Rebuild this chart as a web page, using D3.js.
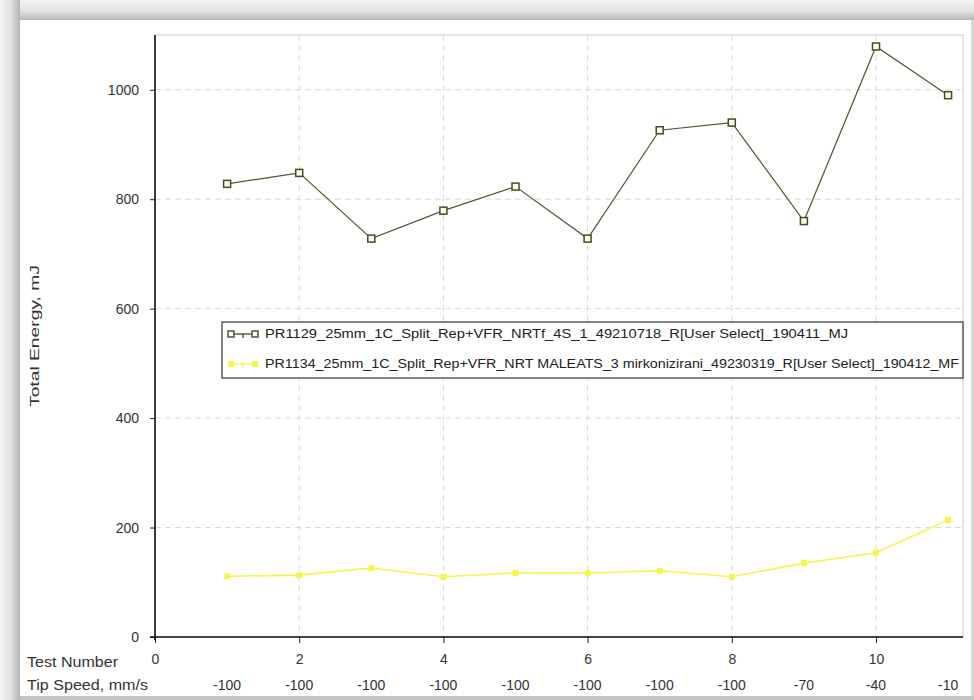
<!DOCTYPE html>
<html>
<head>
<meta charset="utf-8">
<script src="https://cdn.jsdelivr.net/npm/d3@7/dist/d3.min.js"></script>
<style>
  html, body { margin: 0; padding: 0; background: #ffffff; }
  svg { display: block; font-family: "Liberation Sans", Arial, sans-serif; }
</style>
</head>
<body>
<svg id="chart" width="974" height="700"></svg>
<script>
// Test numbers and tip speeds along the x axis
const testNumbers = [1, 2, 3, 4, 5, 6, 7, 8, 9, 10, 11];
const tipSpeeds = [-100, -100, -100, -100, -100, -100, -100, -100, -70, -40, -10];
const xTicks = [0, 2, 4, 6, 8, 10];
const yTicks = [0, 200, 400, 600, 800, 1000];

// Total energy (mJ) per test for each sample
const seriesNames = [
  "PR1129_25mm_1C_Split_Rep+VFR_NRTf_4S_1_49210718_R[User Select]_190411_MJ",
  "PR1134_25mm_1C_Split_Rep+VFR_NRT MALEATS_3 mirkonizirani_49230319_R[User Select]_190412_MF"
];
const energyA = [828, 848, 728, 779, 823, 728, 926, 940, 760, 1079, 990];
const energyB = [111, 113, 126, 110, 117, 117, 121, 110, 135, 154, 214];

const svg = d3.select("#chart");

// Window frame around the chart
const defs = svg.append("defs");
const gTop = defs.append("linearGradient").attr("id", "gTop").attr("x1", 0).attr("y1", 0).attr("x2", 0).attr("y2", 1);
gTop.append("stop").attr("offset", "0%").attr("stop-color", "#f2f2f2");
gTop.append("stop").attr("offset", "55%").attr("stop-color", "#e2e2e2");
gTop.append("stop").attr("offset", "100%").attr("stop-color", "#b8b8b8");
const gLeft = defs.append("linearGradient").attr("id", "gLeft").attr("x1", 0).attr("y1", 0).attr("x2", 1).attr("y2", 0);
gLeft.append("stop").attr("offset", "0%").attr("stop-color", "#f4f4f4");
gLeft.append("stop").attr("offset", "55%").attr("stop-color", "#e0e0e0");
gLeft.append("stop").attr("offset", "100%").attr("stop-color", "#b4b4b4");

svg.append("rect").attr("x", 0).attr("y", 0).attr("width", 974).attr("height", 700).attr("fill", "#ececec");
svg.append("rect").attr("x", 0).attr("y", 0).attr("width", 974).attr("height", 20).attr("fill", "url(#gTop)");
svg.append("rect").attr("x", 0).attr("y", 0).attr("width", 20).attr("height", 700).attr("fill", "url(#gLeft)");
svg.append("rect").attr("x", 20).attr("y", 20).attr("width", 951).attr("height", 676).attr("fill", "#ffffff");
svg.append("rect").attr("x", 971).attr("y", 20).attr("width", 3).attr("height", 680).attr("fill", "#d6d6d6");
svg.append("rect").attr("x", 20).attr("y", 696).attr("width", 954).attr("height", 4).attr("fill", "#c4c4c4");

// Plot area
const plotLeft = 155, plotRight = 963, plotTop = 35, plotBottom = 637;
const x = d3.scaleLinear().domain([0, 11.2]).range([plotLeft, plotLeft + 72.1 * 11.2]);
const y = d3.scaleLinear().domain([0, 1100]).range([plotBottom, plotTop]);

// Plot border
svg.append("rect").attr("x", plotLeft).attr("y", plotTop).attr("width", plotRight - plotLeft).attr("height", plotBottom - plotTop)
  .attr("fill", "none").attr("stroke", "#dcdcdc").attr("stroke-width", 1.5);

// Dashed grid
const grid = svg.append("g").attr("stroke", "#d8d8d8").attr("stroke-width", 1).attr("stroke-dasharray", "6,4");
grid.selectAll("line.h").data(yTicks.filter(d => d > 0)).join("line").attr("class", "h")
  .attr("x1", plotLeft).attr("x2", plotRight).attr("y1", d => y(d)).attr("y2", d => y(d));
grid.selectAll("line.v").data(xTicks.filter(d => d > 0)).join("line").attr("class", "v")
  .attr("y1", plotTop).attr("y2", plotBottom).attr("x1", d => x(d)).attr("x2", d => x(d));

// Axes
const yAxis = d3.axisLeft(y).tickValues(yTicks).tickSize(5).tickPadding(11).tickFormat(d3.format("d"));
const gy = svg.append("g").attr("transform", `translate(${plotLeft},0)`).call(yAxis);
gy.select(".domain").remove();
gy.selectAll("text").attr("font-size", 14).attr("fill", "#333");
gy.selectAll("line").attr("stroke", "#222");

const xAxis = d3.axisBottom(x).tickValues(xTicks).tickSize(6).tickPadding(11).tickFormat(d3.format("d"));
const gx = svg.append("g").attr("transform", `translate(0,${plotBottom})`).call(xAxis);
gx.select(".domain").remove();
gx.selectAll("text").attr("font-size", 14).attr("fill", "#333");
gx.selectAll("line").attr("stroke", "#222");

svg.append("line").attr("x1", plotLeft).attr("x2", plotLeft).attr("y1", plotTop).attr("y2", plotBottom + 3)
  .attr("stroke", "#111").attr("stroke-width", 1.6);
svg.append("line").attr("x1", plotLeft - 5).attr("x2", plotRight).attr("y1", plotBottom).attr("y2", plotBottom)
  .attr("stroke", "#111").attr("stroke-width", 1.6);

// Tip speed row
svg.append("g").selectAll("text").data(testNumbers).join("text")
  .attr("x", d => x(d)).attr("y", 690).attr("text-anchor", "middle")
  .attr("font-size", 14).attr("fill", "#333")
  .text((d, i) => tipSpeeds[i]);

svg.append("text").attr("x", 27).attr("y", 667).attr("font-size", 14.5).attr("fill", "#333")
  .attr("textLength", 91).attr("lengthAdjust", "spacingAndGlyphs").text("Test Number");
svg.append("text").attr("x", 27).attr("y", 690).attr("font-size", 14.5).attr("fill", "#333")
  .attr("textLength", 121).attr("lengthAdjust", "spacingAndGlyphs").text("Tip Speed, mm/s");

// Y axis title
svg.append("text").attr("transform", "translate(39,336) rotate(-90)").attr("text-anchor", "middle")
  .attr("font-size", 13).attr("fill", "#333")
  .attr("textLength", 142).attr("lengthAdjust", "spacingAndGlyphs").text("Total Energy, mJ");

// Series lines and markers
const line = d3.line().x((d, i) => x(testNumbers[i])).y(d => y(d));

svg.append("path").datum(energyB).attr("d", line).attr("fill", "none")
  .attr("stroke", "#f5f54a").attr("stroke-width", 1.6);
svg.append("g").selectAll("rect").data(energyB).join("rect")
  .attr("x", (d, i) => x(testNumbers[i]) - 3).attr("y", d => y(d) - 3)
  .attr("width", 6).attr("height", 6).attr("fill", "#f5f54a");

svg.append("path").datum(energyA).attr("d", line).attr("fill", "none")
  .attr("stroke", "#55552b").attr("stroke-width", 1.2);
svg.append("g").selectAll("rect").data(energyA).join("rect")
  .attr("x", (d, i) => x(testNumbers[i]) - 3.5).attr("y", d => y(d) - 3.5)
  .attr("width", 7).attr("height", 7).attr("fill", "#fbfbf0")
  .attr("stroke", "#4a4a22").attr("stroke-width", 1.5);

// Legend
const legend = svg.append("g");
legend.append("rect").attr("x", 222).attr("y", 322).attr("width", 741).attr("height", 56)
  .attr("fill", "#ffffff").attr("stroke", "#333").attr("stroke-width", 1.2);
const legendColors = ["#4a4a22", "#f5f54a"];
const legendRows = legend.selectAll("g.row").data(seriesNames).join("g").attr("class", "row")
  .attr("transform", (d, i) => `translate(0,${337 + i * 30})`);
legendRows.append("line").attr("x1", 230).attr("x2", 256).attr("y1", -3).attr("y2", -3)
  .attr("stroke", (d, i) => legendColors[i]).attr("stroke-width", 1.3);
legendRows.append("line").attr("x1", 243).attr("x2", 243).attr("y1", -3).attr("y2", 1)
  .attr("stroke", (d, i) => legendColors[i]).attr("stroke-width", 1.3);
legendRows.each(function(d, i) {
  const g = d3.select(this);
  [231, 255].forEach(cx => {
    const r = g.append("rect").attr("x", cx - 3).attr("y", -6).attr("width", 6).attr("height", 6);
    if (i === 0) r.attr("fill", "#fbfbf0").attr("stroke", legendColors[0]).attr("stroke-width", 1.4);
    else r.attr("fill", legendColors[1]);
  });
});
legendRows.append("text").attr("x", 265).attr("y", 1).attr("font-size", 12).attr("fill", "#222")
  .attr("textLength", (d, i) => i === 0 ? 583 : 694).attr("lengthAdjust", "spacingAndGlyphs")
  .text(d => d);
</script>
</body>
</html>
